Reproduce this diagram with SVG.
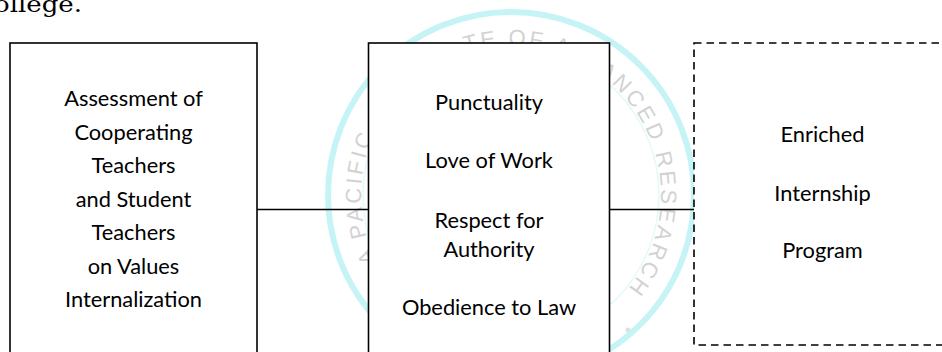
<svg xmlns="http://www.w3.org/2000/svg" width="942" height="352" viewBox="0 0 942 352">
  <style>
    .box { fill: #ffffff; stroke: #000000; stroke-width: 1.6; }
    .dash { fill: #ffffff; stroke: #000000; stroke-width: 1.6; stroke-dasharray: 7.5 5; }
    .conn { stroke: #000000; stroke-width: 1.6; fill: none; }
    .lbl { font-family: Lato, "Open Sans", "Liberation Sans", sans-serif; font-size: 21.8px; fill: #000000; text-anchor: middle; }
    .wm-ring { fill: none; stroke: #c6f4f6; stroke-width: 6; }
    .wm-inner { fill: none; stroke: #e3fafb; stroke-width: 1.5; }
    .wm-text { font-family: "Liberation Sans", Arial, sans-serif; font-size: 22px; fill: #d2d2d2; letter-spacing: 3px; }
    .page { font-family: "DejaVu Serif", "Liberation Serif", serif; font-size: 22px; fill: #000000; }
  </style>
  <defs>
    <path id="wmPath" d="M 401.3 297.3 A 150 150 0 1 1 625.9 291.4"/>
  </defs>
  <rect width="942" height="352" fill="#ffffff"/>

  <!-- page text fragment -->
  <text class="page" x="-6" y="12" textLength="88" lengthAdjust="spacingAndGlyphs">ollege.</text>

  <!-- watermark -->
  <g id="watermark">
    <circle class="wm-ring" cx="511" cy="195" r="183"/>
    <circle class="wm-inner" cx="511" cy="195" r="148"/>
    <text class="wm-text"><textPath href="#wmPath" startOffset="44.5">A PACIFIC</textPath></text>
    <text class="wm-text"><textPath href="#wmPath" startOffset="302">TE OF A</textPath></text>
    <text class="wm-text"><textPath href="#wmPath" startOffset="440">ANCED RESEARCH</textPath></text>
    <circle cx="628" cy="330" r="2.5" fill="#e0e0e0"/>
  </g>

  <!-- connectors -->
  <g id="connectors">
    <line class="conn" x1="257" y1="209.5" x2="368.5" y2="209.5"/>
    <line class="conn" x1="609.5" y1="209.5" x2="694" y2="209.5"/>
  </g>

  <g id="node-assessment">
    <rect class="box" x="10" y="43" width="247" height="330"/>
    <text class="lbl" x="133.5" y="106">Assessment of</text>
    <text class="lbl" x="133.5" y="139.5">Cooperating</text>
    <text class="lbl" x="133.5" y="173">Teachers</text>
    <text class="lbl" x="133.5" y="206.5">and Student</text>
    <text class="lbl" x="133.5" y="240">Teachers</text>
    <text class="lbl" x="133.5" y="273.5">on Values</text>
    <text class="lbl" x="133.5" y="307">Internalization</text>
  </g>

  <g id="node-values">
    <rect class="box" x="368.5" y="43" width="241" height="330"/>
    <text class="lbl" x="489" y="110">Punctuality</text>
    <text class="lbl" x="489" y="167.7">Love of Work</text>
    <text class="lbl" x="489" y="227.7">Respect for</text>
    <text class="lbl" x="489" y="257.3">Authority</text>
    <text class="lbl" x="489" y="315">Obedience to Law</text>
  </g>

  <g id="node-program">
    <rect class="dash" x="694" y="43" width="280" height="302"/>
    <text class="lbl" x="822.5" y="142.3">Enriched</text>
    <text class="lbl" x="822.5" y="201">Internship</text>
    <text class="lbl" x="822.5" y="258.3">Program</text>
  </g>
</svg>
